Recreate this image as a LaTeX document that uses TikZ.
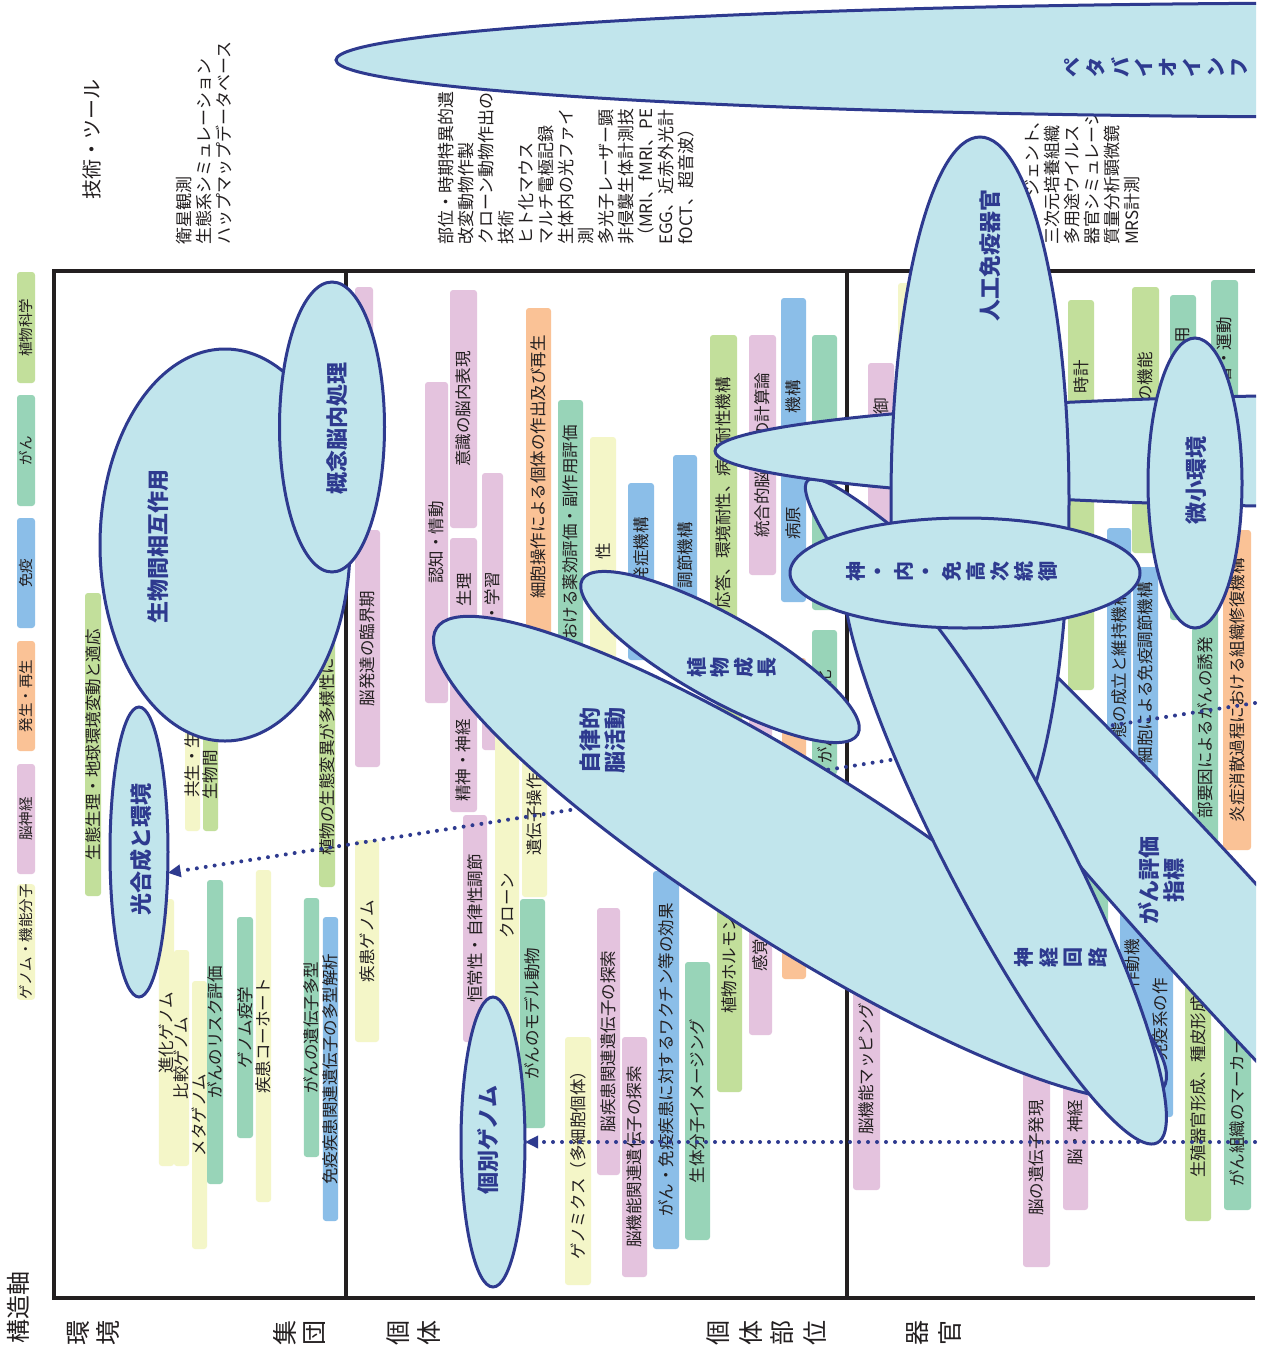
\documentclass[tikz,border=0pt]{standalone}
\usepackage{fontspec}
\setmainfont{Noto Sans CJK JP}
\usetikzlibrary{shapes.geometric,arrows.meta}
\pgfdeclarelayer{bars}
\pgfdeclarelayer{links}
\pgfsetlayers{bars,links,main}
\definecolor{ink}{HTML}{231F20}
\definecolor{navy}{HTML}{2E3A8F}
\definecolor{ellfill}{HTML}{C1E5EC}
\definecolor{cpink}{HTML}{E4C3DE}
\definecolor{cyel}{HTML}{F4F6C8}
\definecolor{corg}{HTML}{FAC296}
\definecolor{cblue}{HTML}{8BBEE8}
\definecolor{cteal}{HTML}{98D4B8}
\definecolor{cgrn}{HTML}{C2DF9B}
\newcommand\lgd{\fontsize{14.5}{16}\selectfont}
% bar: name, x1, x2, y1, y2, colour, centred text
\newcommand\cbar[7]{%
  \node[barbox=#6, minimum width={#5-#4}, minimum height={#3-#2}] (#1)
    at ({(#2+#3)/2},{(#4+#5)/2}) {#7};}
\begin{document}
\begin{tikzpicture}[x=1pt,y=-1pt,
  barbox/.style={rotate=90, rounded corners=3pt, fill=#1, inner sep=0pt,
    font=\fontsize{16.5}{18}\selectfont, text=ink},
  btxt/.style={rotate=90, inner sep=0pt, font=\fontsize{16.5}{18}\selectfont, text=ink},
  ell/.style={ellipse, draw=navy, line width=3pt, fill=ellfill, inner sep=0pt, outer sep=0pt},
  elbl/.style={rotate=90, inner sep=0pt, align=center, text=navy,
    font=\bfseries\fontsize{22}{25}\selectfont},
  stk/.style={rotate=90, inner sep=0pt, text=navy, font=\bfseries\fontsize{20}{22}\selectfont},
  tech/.style={rotate=90, inner sep=0pt, align=left, anchor=north west, text=ink,
    font=\fontsize{17}{20}\selectfont},
  rowlbl/.style={rotate=90, inner sep=0pt, text=ink, font=\fontsize{25}{27}\selectfont},
  frame/.style={ink, line width=3.5pt},
  dotline/.style={navy, line width=4pt, line cap=round, dash pattern=on 0pt off 9pt,
    -{Triangle[length=13pt,width=12pt]}}]
\useasboundingbox (0,0) rectangle (1265,1350);

\begin{pgfonlayer}{bars}
\fill[white] (0,0) rectangle (1265,1350);
% frame and dividers
\draw[frame] (1255,271) -- (54,271) -- (54,1298) -- (1255,1298);
\draw[frame] (346,271) -- (346,1298);
\draw[frame] (847,271) -- (847,1298);

% legend
\cbar{lg1}{17}{35}{272}{383}{cgrn}{\lgd 植物科学}
\cbar{lg2}{17}{35}{395}{506}{cteal}{\lgd がん}
\cbar{lg3}{17}{35}{518}{628}{cblue}{\lgd 免疫}
\cbar{lg4}{17}{35}{641}{751}{corg}{\lgd 発生・再生}
\cbar{lg5}{17}{35}{764}{874}{cpink}{\lgd 脳神経}
\cbar{lg6}{17}{35}{887}{997}{cyel}{\lgd ゲノム・機能分子}

% headings
\node[rotate=90, inner sep=0pt, text=ink, font=\fontsize{20}{22}\selectfont] (hd) at (92,139) {技術・ツール};
\node[rotate=90, inner sep=0pt, text=ink, font=\fontsize{24}{26}\selectfont] (axis) at (18,1307) {構造軸};
\foreach \c/\x [count=\k] in {環/78,境/108,集/285,団/315,個/398,体/429,個/718,体/751,部/782,位/815,器/918,官/950}
  \node[rowlbl] (row\k) at (\x,1333) {\c};

% tools
\node[tech] (tl1) at (176,245) {衛星観測\\生態系シミュレーション\\ハップマップデータベース};
\node[tech] (tl2) at (438,245) {部位・時期特異的遺\\改変動物作製\\クローン動物作出の\\技術\\ヒト化マウス\\マルチ電極記録\\生体内の光ファイ\\測\\多光子レーザー顕\\非侵襲生体計測技\\（MRI、fMRI、PE\\EGG、近赤外光計\\fOCT、超音波）};
\node[tech] (tl3) at (1025,245) {\phantom{エー}\hspace{14pt}ジェント、\\三次元培養組織\\多用途ウイルス\\器官シミュレーシ\\質量分析顕微鏡\\MRS計測};

% environment / population
\cbar{b01}{85}{101}{593}{896}{cgrn}{生態生理・地球環境変動と適応}
\cbar{b02}{185}{200}{600}{831}{cyel}{}
\node[btxt,anchor=west] (t02) at (192.5,798) {共生・生};
\cbar{b03}{203}{218}{600}{831}{cgrn}{}
\node[btxt,anchor=west] (t03) at (210.5,800) {生物間};
\cbar{b04}{319}{335}{600}{887}{cgrn}{}
\node[btxt,anchor=west] (t04) at (327,856) {植物の生態変異が多様性に};
\cbar{b05}{159}{174}{899}{1166}{cyel}{進化ゲノム}
\cbar{b06}{174}{189}{950}{1166}{cyel}{比較ゲノム}
\cbar{b07}{192}{207}{981}{1249}{cyel}{メタゲノム}
\cbar{b08}{207}{223}{880}{1184}{cteal}{がんのリスク評価}
\cbar{b09}{237}{253}{917}{1138}{cteal}{ゲノム疫学}
\cbar{b10}{256}{271}{870}{1202}{cyel}{疾患コーホート}
\cbar{b11}{304}{319}{898}{1157}{cteal}{がんの遺伝子多型}
\cbar{b12}{323}{338}{917}{1221}{cblue}{免疫疾患関連遺伝子の多型解析}

% individual
\cbar{c01}{355}{373}{287}{515}{cpink}{}
\cbar{c02}{355}{380}{530}{767}{cpink}{脳発達の臨界期}
\cbar{c03}{355}{379}{840}{1042}{cyel}{疾患ゲノム}
\cbar{c04}{425}{448}{382}{703}{cpink}{認知・情動}
\cbar{c05}{450}{477}{290}{528}{cpink}{意識の脳内表現}
\cbar{c06}{450}{477}{538}{812}{cpink}{}
\node[btxt,anchor=east] (t06a) at (463.5,573) {生理};
\node[btxt,anchor=west] (t06b) at (463.5,802) {精神・神経};
\cbar{c07}{482}{503}{473}{750}{cpink}{}
\node[btxt,anchor=east] (t07) at (492.5,572) {・学習};
\cbar{c08}{463}{487}{815}{1042}{cpink}{恒常性・自律性調節}
\cbar{c09}{495}{519}{650}{1068}{cyel}{}
\node[btxt] (t09) at (507,906) {クローン};
\cbar{c10}{522}{547}{660}{897}{cyel}{}
\node[btxt,anchor=west] (t10) at (534.5,856) {遺伝子操作};
\cbar{c11}{520}{545}{899}{1128}{cteal}{がんのモデル動物}
\cbar{c12}{526}{551}{308}{645}{corg}{}
\node[btxt,anchor=east] (t12) at (538.5,335) {細胞操作による個体の作出及び再生};
\cbar{c13}{558}{583}{400}{660}{cteal}{}
\node[btxt,anchor=east] (t13) at (570.5,425) {おける薬効評価・副作用評価};
\cbar{c14}{590}{616}{437}{660}{cyel}{}
\node[btxt,anchor=east] (t14) at (603,543) {性};
\cbar{c15}{628}{654}{483}{660}{cblue}{}
\node[btxt,anchor=east] (t15) at (641,517) {発症機構};
\cbar{c16}{673}{697}{455}{660}{cblue}{}
\node[btxt,anchor=east] (t16) at (685,522) {調節機構};
\cbar{c17}{710}{737}{335}{650}{cgrn}{}
\node[btxt,anchor=east] (t17) at (723.5,377) {応答、環境耐性、病原耐性機構};
\cbar{c18}{749}{776}{335}{575}{cpink}{統合的脳機能の計算論}
\cbar{c19}{781}{806}{298}{602}{cblue}{}
\node[btxt,anchor=east] (t19a) at (793.5,380) {機構};
\node[btxt,anchor=west] (t19b) at (793.5,540) {病原};
\cbar{c20}{812}{837}{335}{610}{cteal}{}
\cbar{c21}{812}{837}{630}{775}{cteal}{}
\node[btxt,anchor=east] (t21a) at (824.5,670) {化};
\node[btxt,anchor=west] (t21b) at (824.5,764) {がん};
\cbar{c22}{782}{806}{658}{979}{corg}{}
\cbar{c23}{749}{772}{700}{1035}{cpink}{}
\node[btxt,anchor=west] (t23) at (760.5,972) {感覚};
\cbar{c24}{717}{742}{700}{1092}{cgrn}{}
\node[btxt,anchor=west] (t24) at (729.5,1014) {植物ホルモン};
\cbar{c25}{685}{710}{962}{1240}{cteal}{生体分子イメージング}
\cbar{c26}{653}{679}{871}{1249}{cblue}{がん・免疫疾患に対するワクチン等の効果}
\cbar{c27}{622}{647}{1037}{1277}{cpink}{脳機能関連遺伝子の探索}
\cbar{c28}{597}{620}{908}{1175}{cpink}{脳疾患関連遺伝子の探索}
\cbar{c29}{565}{591}{1037}{1285}{cyel}{ゲノミクス（多細胞個体）}

% organ
\cbar{d01}{868}{894}{363}{560}{cpink}{}
\node[btxt,anchor=east] (t31) at (881,398) {制御};
\cbar{d02}{898}{912}{283}{500}{cyel}{}
\cbar{d03}{1068}{1094}{300}{690}{cgrn}{}
\node[btxt,anchor=east] (t33) at (1081,360) {時計};
\cbar{d04}{1132}{1159}{287}{553}{cgrn}{}
\node[btxt,anchor=east] (t34) at (1145.5,352) {の機能};
\cbar{d05}{1170}{1196}{295}{620}{cteal}{}
\node[btxt,anchor=east] (t35) at (1183,327) {用};
\cbar{d06}{1211}{1238}{280}{520}{cteal}{}
\node[btxt,anchor=east] (t36) at (1224.5,317) {着・運動};
\cbar{d07}{1107}{1131}{528}{800}{cblue}{}
\node[btxt,anchor=east] (t37) at (1119,590) {態の成立と維持機構};
\cbar{d08}{1133}{1158}{567}{800}{cblue}{}
\node[btxt,anchor=east] (t38) at (1145.5,582) {細胞による免疫調節機構};
\cbar{d09}{1192}{1218}{600}{850}{cteal}{}
\node[btxt,anchor=east] (t39) at (1205,637) {部要因によるがんの誘発};
\cbar{d10}{1223}{1251}{530}{850}{corg}{炎症消散過程における組織修復機構}
\cbar{d11}{853}{880}{950}{1190}{cpink}{}
\node[btxt,anchor=west] (t41) at (866.5,1135) {脳機能マッピング};
\cbar{d12}{1023}{1050}{1000}{1267}{cpink}{}
\node[btxt,anchor=west] (t42) at (1036.5,1216) {脳の遺伝子発現};
\cbar{d13}{1063}{1088}{1000}{1210}{cpink}{}
\node[btxt,anchor=west] (t43) at (1075.5,1166) {脳・神経};
\cbar{d14}{1120}{1173}{850}{1117}{cblue}{}
\node[btxt,anchor=west] (t44a) at (1132,989) {作動機};
\node[btxt,anchor=west] (t44b) at (1160,1061) {免疫系の作};
\cbar{d15}{1185}{1211}{900}{1221}{cgrn}{}
\node[btxt,anchor=west] (t45) at (1198,1178) {生殖器官形成、種皮形成};
\cbar{d16}{1224}{1251}{900}{1210}{cteal}{}
\node[btxt,anchor=west] (t46) at (1237.5,1187) {がん組織のマーカー};
\cbar{d17}{1084}{1108}{840}{1000}{cteal}{}
\end{pgfonlayer}

% research themes
\begin{scope}
\clip (0,0) rectangle (1256,1350);
\node[ell, minimum width=2058, minimum height=114] (E1) at (1365,60) {};
\foreach \c [count=\i from 0] in {ペ,タ,バ,イ,オ,イ,ン,フ}
  \node[stk] (p\i) at (1072+24*\i,67) {\c};
\node[ell, minimum width=250, minimum height=392] (E2) at (225,545) {};
\node[elbl] (l2) at (158,546) {生物間相互作用};
\node[ell, minimum width=105, minimum height=290] (E3) at (332,427) {};
\node[elbl] (l3) at (337,428) {概念脳内処理};
\node[ell, minimum width=58, minimum height=290] (E4) at (139,852) {};
\node[elbl] (l4) at (141,849) {光合成と環境};
\node[ell, minimum width=64, minimum height=290] (E5) at (493,1142) {};
\node[elbl] (l5) at (488,1140) {個別ゲノム};
\node[ell, minimum width=316, minimum height=84, rotate=-29.3] (B) at (720,657) {};
\node[ell, minimum width=860, minimum height=177, rotate=-32.3] (A) at (800,858) {};
\node[elbl] (lA) at (603,740) {自律的\\脳活動};
\foreach \c [count=\i from 0] in {植,物,成,長}
  \node[stk] (g\i) at (697+23.3*\i,667) {\c};
\node[ell, minimum width=1240, minimum height=120, rotate=-47.7] (D) at (1225,939) {};
\node[elbl] (lD) at (1161,880) {がん評価\\指標};
\node[ell, minimum width=1472, minimum height=114] (E) at (1451,451) {};
\node[ell, minimum width=178, minimum height=726] (F) at (980,500) {};
\node[elbl] (lF) at (990,255) {人工免疫器官};
\node[ell, minimum width=660, minimum height=120, rotate=-62.5] (C) at (1005,850) {};
\foreach \c [count=\i from 0] in {神,経,回,路}
  \node[stk] (n\i) at (1024+24.6*\i,957) {\c};
\node[ell, minimum width=350, minimum height=110] (G) at (965,573) {};
\foreach \c [count=\i from 0] in {神,・,内,・,免,高,次,統,御}
  \node[stk] (m\i) at (856+24*\i,571) {\c};
\node[ell, minimum width=94, minimum height=290] (H) at (1195,483) {};
\node[elbl] (lH) at (1196,480) {微小環境};
\end{scope}

% links
\begin{pgfonlayer}{links}
\coordinate (s1) at (1255,703);
\coordinate (s2) at (1255,1142);
\draw[dotline] (s1) -- (E4.-36);
\draw[dotline] (s2) -- (E5);
\end{pgfonlayer}
\end{tikzpicture}
\end{document}
